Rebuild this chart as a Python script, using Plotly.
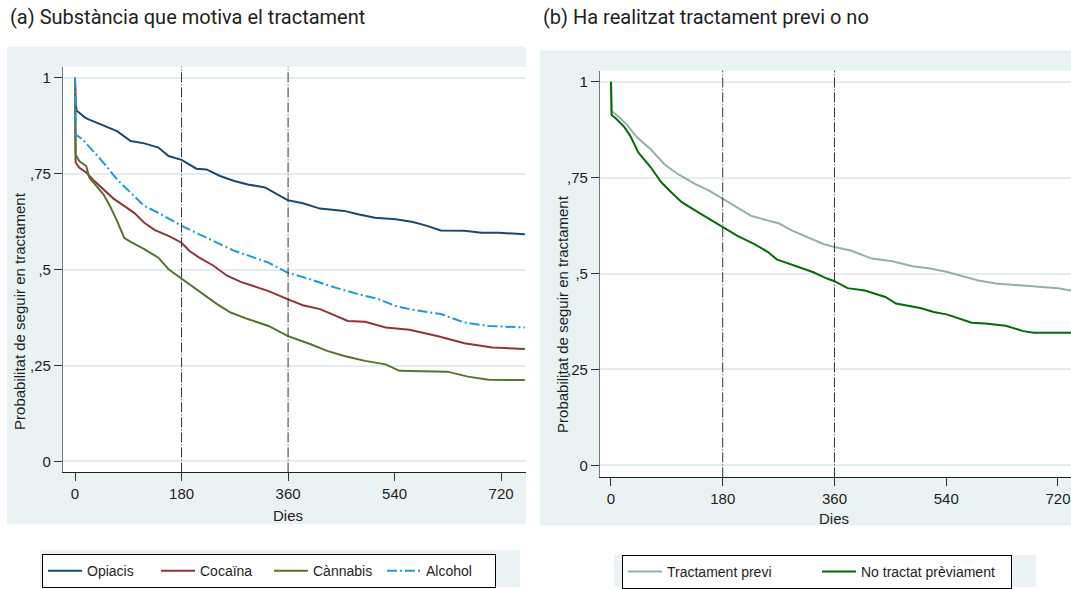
import plotly.graph_objects as go

# ---------------- data ----------------
# Panel (a): Substància que motiva el tractament
opi_days = [0, 1, 3, 17, 24, 48, 71, 94, 117, 141, 158, 180, 205, 222, 245, 269, 292, 321, 338, 359, 385, 414, 455, 478, 507, 542, 571, 595, 618, 658, 687, 716, 760]
opi_vals = [1.0, 0.93, 0.914, 0.896, 0.891, 0.876, 0.861, 0.835, 0.829, 0.818, 0.796, 0.786, 0.763, 0.761, 0.744, 0.731, 0.722, 0.714, 0.699, 0.681, 0.673, 0.659, 0.653, 0.644, 0.635, 0.631, 0.624, 0.614, 0.602, 0.601, 0.596, 0.596, 0.592]

coc_days = [0, 1, 7, 19, 30, 48, 65, 83, 100, 117, 135, 158, 180, 193, 210, 234, 257, 280, 304, 327, 359, 385, 414, 443, 461, 490, 525, 565, 612, 658, 705, 760]
coc_vals = [1.0, 0.779, 0.766, 0.753, 0.735, 0.709, 0.685, 0.666, 0.648, 0.622, 0.603, 0.588, 0.570, 0.549, 0.531, 0.510, 0.484, 0.468, 0.456, 0.444, 0.423, 0.407, 0.397, 0.379, 0.366, 0.364, 0.349, 0.343, 0.327, 0.308, 0.297, 0.293]

can_days = [0, 1, 7, 19, 24, 36, 48, 59, 71, 83, 94, 117, 141, 158, 180, 199, 222, 240, 263, 292, 327, 359, 397, 426, 455, 490, 525, 548, 629, 664, 699, 760]
can_vals = [1.0, 0.80, 0.783, 0.770, 0.740, 0.718, 0.696, 0.666, 0.627, 0.583, 0.572, 0.553, 0.531, 0.501, 0.477, 0.457, 0.431, 0.410, 0.388, 0.371, 0.353, 0.327, 0.306, 0.288, 0.275, 0.262, 0.253, 0.236, 0.234, 0.221, 0.213, 0.212]

alc_days = [0, 1, 13, 30, 48, 71, 94, 117, 141, 164, 180, 210, 234, 269, 292, 327, 359, 397, 431, 478, 513, 542, 571, 618, 658, 699, 760]
alc_vals = [1.0, 0.852, 0.839, 0.809, 0.779, 0.735, 0.700, 0.666, 0.648, 0.627, 0.614, 0.592, 0.575, 0.549, 0.537, 0.518, 0.492, 0.475, 0.457, 0.436, 0.423, 0.405, 0.395, 0.384, 0.362, 0.353, 0.349]

# Panel (b): Ha realitzat tractament previ o no
prev_days = [0, 1, 14, 25, 42, 64, 86, 108, 136, 158, 179, 203, 225, 253, 270, 292, 325, 342, 360, 386, 420, 453, 486, 514, 542, 570, 592, 620, 659, 687, 720, 741]
prev_vals = [1.0, 0.924, 0.906, 0.889, 0.855, 0.824, 0.785, 0.759, 0.733, 0.716, 0.696, 0.673, 0.651, 0.638, 0.631, 0.612, 0.590, 0.577, 0.569, 0.560, 0.539, 0.532, 0.519, 0.513, 0.504, 0.491, 0.482, 0.474, 0.469, 0.465, 0.462, 0.456]

nop_days = [0, 1, 8, 22, 31, 44, 64, 81, 97, 114, 136, 158, 179, 203, 231, 253, 267, 292, 325, 348, 360, 381, 409, 442, 459, 498, 520, 542, 559, 581, 603, 636, 664, 681, 741]
nop_vals = [1.0, 0.913, 0.904, 0.881, 0.859, 0.816, 0.777, 0.738, 0.712, 0.686, 0.664, 0.642, 0.621, 0.599, 0.577, 0.556, 0.537, 0.523, 0.504, 0.487, 0.480, 0.462, 0.456, 0.439, 0.422, 0.410, 0.400, 0.393, 0.383, 0.372, 0.370, 0.364, 0.350, 0.346, 0.346]

x_ticks = [0, 180, 360, 540, 720]
y_ticks = [0, 0.25, 0.5, 0.75, 1]
y_ticktext = ["0", ",25", ",5", ",75", "1"]
ref_days = [180, 360]

title_a = "(a) Substància que motiva el tractament"
title_b = "(b) Ha realitzat tractament previ o no"
x_title = "Dies"
y_title = "Probabilitat de seguir en tractament"

# ---------------- figure ----------------
W, H = 1071, 589
def px(x):
    return x / W
def py(y):
    return 1 - y / H

FONT = "Liberation Sans, Arial, sans-serif"
TXT = "#1e1e1e"
BG = "#eaf2f3"

fig = go.Figure()

left_series = [
    ("Opiacis", opi_days, opi_vals, "#1a476f", "solid"),
    ("Cocaïna", coc_days, coc_vals, "#90353b", "solid"),
    ("Cànnabis", can_days, can_vals, "#55752f", "solid"),
    ("Alcohol", alc_days, alc_vals, "#1f9bd0", "10px,3px,2px,3px"),
]
for name, d, v, c, dash in left_series:
    fig.add_trace(go.Scatter(x=d, y=v, mode="lines", name=name,
                             line=dict(color=c, width=2, dash=dash),
                             xaxis="x", yaxis="y", legend="legend"))

right_series = [
    ("Tractament previ", prev_days, prev_vals, "#93b1a9", "solid"),
    ("No tractat prèviament", nop_days, nop_vals, "#056a08", "solid"),
]
for name, d, v, c, dash in right_series:
    fig.add_trace(go.Scatter(x=d, y=v, mode="lines", name=name,
                             line=dict(color=c, width=2, dash=dash),
                             xaxis="x2", yaxis="y2", legend="legend2"))

axis_common = dict(showgrid=False, zeroline=False, showline=True, ticks="outside",
                   ticklen=8, tickwidth=1, tickcolor="#333",
                   tickfont=dict(family=FONT, size=15, color=TXT))
yaxis_common = dict(showgrid=True, gridcolor="#e4eef0", gridwidth=1.5, zeroline=False,
                    showline=True, linecolor="#777", linewidth=1.2, ticks="outside",
                    ticklen=8, tickwidth=1, tickcolor="#333",
                    tickvals=y_ticks, ticktext=y_ticktext,
                    tickfont=dict(family=FONT, size=15, color=TXT))

fig.update_layout(
    width=W, height=H, margin=dict(l=0, r=0, t=0, b=0),
    paper_bgcolor="white", plot_bgcolor="white",
    font=dict(family=FONT, color=TXT),
    xaxis=dict(domain=[px(63), px(526)], range=[-20.3, 762], tickvals=x_ticks,
               anchor="y", linecolor="#222", **axis_common),
    yaxis=dict(domain=[py(474), py(67)], range=[-0.0286, 1.0286], anchor="x", **yaxis_common),
    xaxis2=dict(domain=[px(600), 1.0], range=[-17.7, 741], tickvals=x_ticks,
                anchor="y2", linecolor="#222", **axis_common),
    yaxis2=dict(domain=[py(479), py(71)], range=[-0.0312, 1.0286], anchor="x2", **yaxis_common),
    legend=dict(x=px(42), y=py(556), xanchor="left", yanchor="top", orientation="h",
                bgcolor="white", bordercolor="black", borderwidth=1,
                font=dict(family=FONT, size=14, color=TXT), itemwidth=34,
                entrywidth=64, entrywidthmode="pixels"),
    legend2=dict(x=px(622), y=py(557), xanchor="left", yanchor="top", orientation="h",
                 bgcolor="white", bordercolor="black", borderwidth=1,
                 font=dict(family=FONT, size=14, color=TXT), itemwidth=34,
                 entrywidth=145, entrywidthmode="pixels"),
    showlegend=True,
)

shapes = [
    # panel backgrounds
    dict(type="rect", xref="paper", yref="paper", x0=px(7), x1=px(526), y0=py(526), y1=py(47),
         fillcolor=BG, line=dict(width=0), layer="below"),
    dict(type="rect", xref="paper", yref="paper", x0=px(540), x1=1.0, y0=py(527), y1=py(51),
         fillcolor=BG, line=dict(width=0), layer="below"),
    # legend backgrounds
    dict(type="rect", xref="paper", yref="paper", x0=px(40), x1=px(520), y0=0, y1=py(552),
         fillcolor=BG, line=dict(width=0), layer="below"),
    dict(type="rect", xref="paper", yref="paper", x0=px(614), x1=px(1036), y0=0, y1=py(557),
         fillcolor=BG, line=dict(width=0), layer="below"),
    # white plot regions
    dict(type="rect", xref="x domain", yref="y domain", x0=0, x1=1, y0=0, y1=1,
         fillcolor="white", line=dict(width=0), layer="below"),
    dict(type="rect", xref="x2 domain", yref="y2 domain", x0=0, x1=1, y0=0, y1=1,
         fillcolor="white", line=dict(width=0), layer="below"),
]
for xr, yr in [("x", "y domain"), ("x2", "y2 domain")]:
    for d in ref_days:
        shapes.append(dict(type="line", xref=xr, yref=yr, x0=d, x1=d, y0=0, y1=1,
                           line=dict(color="#333", width=1, dash="10px,2px,1px,2px"),
                           layer="above"))
fig.update_layout(shapes=shapes)

annotations = [
    dict(text=title_a, xref="paper", yref="paper", x=px(8), y=py(17), xanchor="left",
         yanchor="middle", showarrow=False, font=dict(family="Roboto", size=20, color=TXT)),
    dict(text=title_b, xref="paper", yref="paper", x=px(541), y=py(17), xanchor="left",
         yanchor="middle", showarrow=False, font=dict(family="Roboto", size=20, color=TXT)),
    dict(text=x_title, xref="x", yref="paper", x=360, y=py(517), xanchor="center",
         yanchor="middle", showarrow=False, font=dict(family=FONT, size=15, color=TXT)),
    dict(text=x_title, xref="x2", yref="paper", x=360, y=py(520), xanchor="center",
         yanchor="middle", showarrow=False, font=dict(family=FONT, size=15, color=TXT)),
    dict(text=y_title, xref="paper", yref="paper", x=px(20), y=py(312), xanchor="center",
         yanchor="middle", textangle=-90, showarrow=False, font=dict(family=FONT, size=15, color=TXT)),
    dict(text=y_title, xref="paper", yref="paper", x=px(563), y=py(315), xanchor="center",
         yanchor="middle", textangle=-90, showarrow=False, font=dict(family=FONT, size=15, color=TXT)),
]
fig.update_layout(annotations=annotations)

fig.write_html("out.html", config={"displayModeBar": False},
               post_script="document.body.style.margin='0';document.body.style.overflow='hidden';")
